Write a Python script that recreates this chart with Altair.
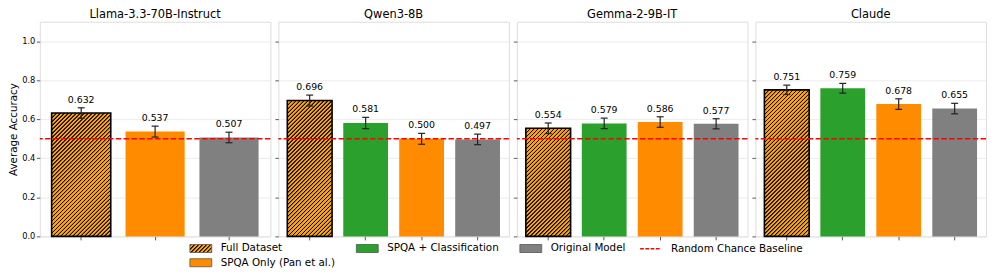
import json
import altair as alt
import pandas as pd

FONT = "DejaVu Sans"

# ---------------- data ----------------
MODELS = ["Llama-3.3-70B-Instruct", "Qwen3-8B", "Gemma-2-9B-IT", "Claude"]

llama_methods = ["Full Dataset", "SPQA Only (Pan et al.)", "Original Model"]
llama_acc = [0.632, 0.537, 0.507]
llama_err = [0.027, 0.028, 0.027]

four_methods = ["Full Dataset", "SPQA + Classification", "SPQA Only (Pan et al.)", "Original Model"]
qwen_acc = [0.696, 0.581, 0.500, 0.497]
qwen_err = [0.028, 0.029, 0.028, 0.027]
gemma_acc = [0.554, 0.579, 0.586, 0.577]
gemma_err = [0.027, 0.027, 0.027, 0.026]
claude_acc = [0.751, 0.759, 0.678, 0.655]
claude_err = [0.024, 0.025, 0.027, 0.027]

BASELINE = 0.5
BASELINE_LABEL = "Random Chance Baseline"

LEGEND_DOMAIN = ["Full Dataset", "SPQA + Classification", "Original Model", "SPQA Only (Pan et al.)"]
LEGEND_COLORS = ["#FFA500", "#2ca02c", "#808080", "#ff8c00"]
# entry order that the legend grid lays out as:
#   Full Dataset | SPQA + Classification | Original Model
#   SPQA Only (Pan et al.)
LEGEND_VALUES = ["Full Dataset", "Original Model", "SPQA + Classification", "SPQA Only (Pan et al.)"]
Y_TICKS = [0.0, 0.2, 0.4, 0.6, 0.8, 1.0]

# ---------------- layout / style ----------------
PW, PH = 232, 216
YMAX = 1.1
PI, PO = 0.2, 0.16


def hatch(W, H, period=4.0, face="#FFA500", line="#000000"):
    """Linear gradient with soft stripes that looks like '/' hatching on a W x H box."""
    L = W + H
    s = W * L / (W * W + H * H)
    prof = [(0.0, face), (0.6, line), (1.4, line), (2.0, face)]
    stops = []
    pos = 0.0
    while pos < L + period:
        for d, col in prof:
            o = (pos + d * period / 4.0) / L
            if o <= 1.0:
                stops.append((o, col))
        pos += period
    return {
        "gradient": "linear",
        "x1": 0, "y1": 0,
        "x2": round(s, 6), "y2": round(s * H / W, 6),
        "stops": [{"offset": round(o, 6), "color": col} for o, col in stops],
    }


legend_grad = hatch(22, 8)
fill_range = [alt.ExprRef(json.dumps(legend_grad))] + LEGEND_COLORS[1:]
fill_scale = alt.Scale(domain=LEGEND_DOMAIN, range=fill_range)
RECT_PATH = "M-1.5,-0.55H1.5V0.55H-1.5Z"

fill_legend = alt.Legend(
    title=None, orient="none", legendX=154, legendY=220, columns=3,
    values=LEGEND_VALUES,
    symbolType=RECT_PATH, symbolSize=215, labelOffset=12,
    columnPadding=18.5, rowPadding=0.5, labelFontSize=10.4, labelFont=FONT,
    labelColor="black", symbolStrokeColor="#555", symbolStrokeWidth=0.8,
    padding=0,
)
stroke_legend = alt.Legend(
    title=None, orient="none", legendX=603, legendY=217,
    symbolType="stroke", symbolSize=441, symbolDash=[3.7, 1.6],
    symbolStrokeWidth=1.5, labelOffset=9, labelFontSize=10.4,
    labelFont=FONT, labelColor="black", padding=0,
)

yscale = alt.Scale(domain=[0, YMAX], nice=False, zero=True, round=False)


def yaxis(first):
    common = dict(values=Y_TICKS, tickSize=3.5, tickColor="#333", tickWidth=0.8,
                  grid=True, gridColor="#e6e6e6", gridWidth=0.8, domain=False)
    if first:
        return alt.Axis(format=".1f", labelFontSize=8.33, labelFont=FONT,
                        labelColor="black", labelPadding=1.5,
                        title="Average Accuracy", titleFontSize=10.4,
                        titleFont=FONT, titleFontWeight="normal",
                        titleColor="black", titlePadding=3, **common)
    return alt.Axis(labels=False, title=None, **common)


def panel(name, methods, acc, err, first):
    df = pd.DataFrame({"method": methods, "acc": acc, "err": err})
    n = len(methods)
    step = PW / (n - PI + 2 * PO)
    bw = step * (1 - PI)
    ax = yaxis(first)

    def Y(f):
        return alt.Y(f, scale=yscale, axis=ax)

    x = alt.X("method:N", sort=methods,
              scale=alt.Scale(paddingInner=PI, paddingOuter=PO, round=False),
              axis=alt.Axis(labels=False, title=None, ticks=True, tickSize=3.5,
                            tickColor="#333", tickWidth=0.8, domain=False,
                            grid=False))
    base = alt.Chart(df).transform_calculate(
        lo="datum.acc - datum.err", hi="datum.acc + datum.err")

    bars = base.mark_bar().encode(
        x=x, y=Y("acc:Q"),
        fill=alt.Fill("method:N", scale=fill_scale, legend=fill_legend))

    full_acc = acc[methods.index("Full Dataset")]
    H = full_acc / YMAX * PH
    hatched = base.transform_filter(alt.datum.method == "Full Dataset").mark_bar(
        fill=hatch(bw, H), stroke="black", strokeWidth=1.6).encode(
        x=x, y=Y("acc:Q"))

    rule = base.mark_rule(color="#222", strokeWidth=1.2).encode(
        x=x, y=Y("lo:Q"), y2="hi:Q")
    cap_lo = base.mark_tick(orient="horizontal", size=7, thickness=1.2,
                            color="#222", opacity=1).encode(x=x, y=Y("lo:Q"))
    cap_hi = base.mark_tick(orient="horizontal", size=7, thickness=1.2,
                            color="#222", opacity=1).encode(x=x, y=Y("hi:Q"))
    labels = base.mark_text(dy=-5, baseline="alphabetic", fontSize=9.4,
                            font=FONT, color="black").encode(
        x=x, y=Y("hi:Q"), text=alt.Text("acc:Q", format=".3f"))

    bl = alt.Chart(pd.DataFrame({"lbl": [BASELINE_LABEL], "y": [BASELINE]})).mark_rule(
        strokeDash=[5.5, 2.4], strokeWidth=1.5).encode(
        y=Y("y:Q"),
        stroke=alt.Stroke("lbl:N", scale=alt.Scale(domain=[BASELINE_LABEL], range=["red"]),
                          legend=stroke_legend))

    return alt.layer(bars, hatched, rule, cap_lo, cap_hi, labels, bl).properties(
        width=PW, height=PH,
        title=alt.TitleParams(name, fontSize=11.5, fontWeight="normal", font=FONT,
                              color="black", offset=1, frame="group"))


panels = [
    panel(MODELS[0], llama_methods, llama_acc, llama_err, True),
    panel(MODELS[1], four_methods, qwen_acc, qwen_err, False),
    panel(MODELS[2], four_methods, gemma_acc, gemma_err, False),
    panel(MODELS[3], four_methods, claude_acc, claude_err, False),
]

chart = alt.hconcat(*panels, spacing=8, bounds="flush").resolve_scale(
    fill="shared", stroke="shared", x="independent", y="shared"
).properties(
    padding={"left": 0, "top": 0, "right": 0, "bottom": 0}
).configure_view(stroke="#333", strokeWidth=1).configure(background="white")

chart.save("out.html", embed_options={"renderer": "svg", "actions": False})
